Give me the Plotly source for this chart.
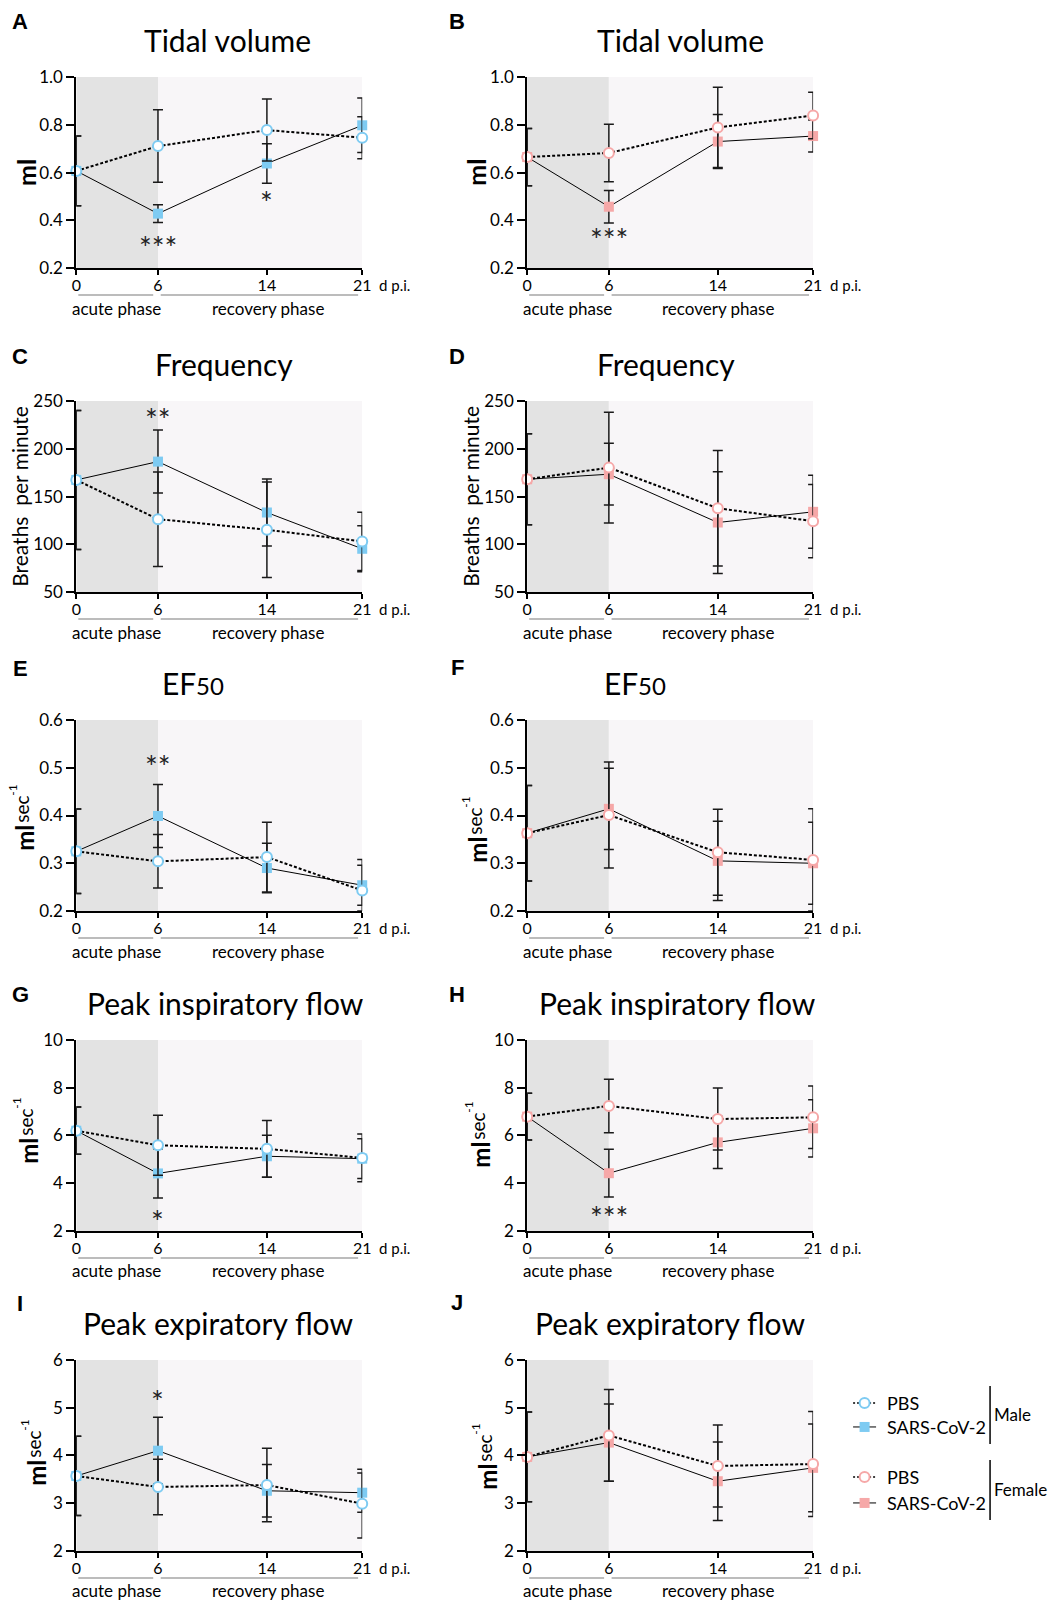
import plotly.graph_objects as go

W, H = 1057, 1603
# measured mapping of figure pixels to the photographed page: page = S * fig + (OX, OY)
S, OX, OY = 0.987, 4.7, 10.9
FONT = "Lato, Roboto, sans-serif"
BOLD = "Liberation Sans, Arial, sans-serif"

# ---------------- data ----------------
days = [0, 6, 14, 21]
day_labels = ["0", "6", "14", "21"]

# A: tidal volume, male
tv_m_pbs = [0.607, 0.711, 0.778, 0.746]
tv_m_pbs_sd = [0.146, 0.152, 0.130, 0.088]
tv_m_sars = [0.607, 0.428, 0.638, 0.798]
tv_m_sars_sd = [0.146, 0.037, 0.083, 0.114]
# B: tidal volume, female
tv_f_pbs = [0.665, 0.682, 0.789, 0.839]
tv_f_pbs_sd = [0.120, 0.120, 0.168, 0.097]
tv_f_sars = [0.665, 0.457, 0.730, 0.753]
tv_f_sars_sd = [0.120, 0.068, 0.113, 0.067]
# C: frequency, male
fr_m_pbs = [167.4, 126.3, 115.2, 103.0]
fr_m_pbs_sd = [72.8, 49.5, 50.0, 30.5]
fr_m_sars = [167.4, 186.6, 133.3, 95.3]
fr_m_sars_sd = [72.8, 33.0, 35.0, 24.0]
# D: frequency, female
fr_f_pbs = [168.1, 180.3, 137.8, 124.2]
fr_f_pbs_sd = [47.6, 58.0, 60.4, 38.3]
fr_f_sars = [168.1, 173.4, 122.8, 134.0]
fr_f_sars_sd = [47.6, 32.3, 53.3, 38.2]
# E: EF50, male
ef_m_pbs = [0.325, 0.304, 0.313, 0.243]
ef_m_pbs_sd = [0.0885, 0.056, 0.073, 0.065]
ef_m_pbs_sd_low = [0.0885, 0.056, 0.073, 0.043]
ef_m_sars = [0.325, 0.399, 0.290, 0.254]
ef_m_sars_sd = [0.0885, 0.066, 0.052, 0.042]
# F: EF50, female
ef_f_pbs = [0.363, 0.401, 0.323, 0.307]
ef_f_pbs_sd = [0.100, 0.111, 0.090, 0.107]
ef_f_sars = [0.363, 0.414, 0.305, 0.300]
ef_f_sars_sd = [0.100, 0.085, 0.083, 0.086]
# G: peak inspiratory flow, male
pif_m_pbs = [6.20, 5.59, 5.44, 5.06]
pif_m_pbs_sd = [0.99, 1.26, 1.19, 1.00]
pif_m_sars = [6.20, 4.41, 5.13, 5.03]
pif_m_sars_sd = [0.99, 1.03, 0.88, 0.83]
# H: peak inspiratory flow, female
pif_f_pbs = [6.79, 7.24, 6.69, 6.76]
pif_f_pbs_sd = [0.98, 1.12, 1.30, 1.31]
pif_f_sars = [6.79, 4.42, 5.71, 6.30]
pif_f_sars_sd = [0.98, 1.00, 1.09, 1.20]
# I: peak expiratory flow, male
pef_m_pbs = [3.57, 3.34, 3.38, 2.99]
pef_m_pbs_sd = [0.83, 0.58, 0.77, 0.72]
pef_m_sars = [3.57, 4.10, 3.26, 3.22]
pef_m_sars_sd = [0.83, 0.70, 0.55, 0.41]
# J: peak expiratory flow, female
pef_f_pbs = [3.97, 4.42, 3.78, 3.82]
pef_f_pbs_sd = [0.94, 0.96, 0.86, 1.10]
pef_f_sars = [3.97, 4.27, 3.46, 3.74]
pef_f_sars_sd = [0.94, 0.81, 0.82, 0.92]

tv_ticks = [0.2, 0.4, 0.6, 0.8, 1.0]
fr_ticks = [50, 100, 150, 200, 250]
ef_ticks = [0.2, 0.3, 0.4, 0.5, 0.6]
pif_ticks = [2, 4, 6, 8, 10]
pef_ticks = [2, 3, 4, 5, 6]

# significance marks: (text, day, value)
stars_A = [("***", 6, 0.30), ("*", 14, 0.49)]
stars_B = [("***", 6, 0.333)]
stars_C = [("**", 6, 234)]
stars_E = [("**", 6, 0.511)]
stars_G = [("*", 6, 2.56)]
stars_H = [("***", 6, 2.71)]
stars_I = [("*", 6, 5.21)]

BLUE = "#7ecbf2"
PINK = "#f6a8a8"

panels = [
    dict(L="A", t="Tidal volume", tx=227, yt="ml", ytx=25, ytdy=0, pbs=tv_m_pbs, pbs_sd=tv_m_pbs_sd, sars=tv_m_sars, sars_sd=tv_m_sars_sd,
         ticks=tv_ticks, fmt=".1f", c=BLUE, stars=stars_A),
    dict(L="B", t="Tidal volume", tx=680, yt="ml", ytx=475, ytdy=0, pbs=tv_f_pbs, pbs_sd=tv_f_pbs_sd, sars=tv_f_sars, sars_sd=tv_f_sars_sd,
         ticks=tv_ticks, fmt=".1f", c=PINK, stars=stars_B),
    dict(L="C", t="Frequency", tx=224, yt="bpm", ytx=19, ytdy=0, pbs=fr_m_pbs, pbs_sd=fr_m_pbs_sd, sars=fr_m_sars, sars_sd=fr_m_sars_sd,
         ticks=fr_ticks, fmt="d", c=BLUE, stars=stars_C),
    dict(L="D", t="Frequency", tx=666, yt="bpm", ytx=470, ytdy=0, pbs=fr_f_pbs, pbs_sd=fr_f_pbs_sd, sars=fr_f_sars, sars_sd=fr_f_sars_sd,
         ticks=fr_ticks, fmt="d", c=PINK, stars=[]),
    dict(L="E", t="EF50", tx=196, yt="mls", ytx=24, ytdy=22, pbs=ef_m_pbs, pbs_sd=ef_m_pbs_sd, pbs_sd_low=ef_m_pbs_sd_low, sars=ef_m_sars, sars_sd=ef_m_sars_sd,
         ticks=ef_ticks, fmt=".1f", c=BLUE, stars=stars_E),
    dict(L="F", t="EF50", tx=638, yt="mls", ytx=477, ytdy=34, pbs=ef_f_pbs, pbs_sd=ef_f_pbs_sd, sars=ef_f_sars, sars_sd=ef_f_sars_sd,
         ticks=ef_ticks, fmt=".1f", c=PINK, stars=[]),
    dict(L="G", t="Peak inspiratory flow", tx=225, yt="mls", ytx=28, ytdy=15, pbs=pif_m_pbs, pbs_sd=pif_m_pbs_sd, sars=pif_m_sars, sars_sd=pif_m_sars_sd,
         ticks=pif_ticks, fmt="d", c=BLUE, stars=stars_G),
    dict(L="H", t="Peak inspiratory flow", tx=677, yt="mls", ytx=480, ytdy=19, pbs=pif_f_pbs, pbs_sd=pif_f_pbs_sd, sars=pif_f_sars, sars_sd=pif_f_sars_sd,
         ticks=pif_ticks, fmt="d", c=PINK, stars=stars_H),
    dict(L="I", t="Peak expiratory flow", tx=218, yt="mls", ytx=36, ytdy=17, pbs=pef_m_pbs, pbs_sd=pef_m_pbs_sd, sars=pef_m_sars, sars_sd=pef_m_sars_sd,
         ticks=pef_ticks, fmt="d", c=BLUE, stars=stars_I),
    dict(L="J", t="Peak expiratory flow", tx=670, yt="mls", ytx=487, ytdy=21, pbs=pef_f_pbs, pbs_sd=pef_f_pbs_sd, sars=pef_f_sars, sars_sd=pef_f_sars_sd,
         ticks=pef_ticks, fmt="d", c=PINK, stars=[]),
]

# ---------------- layout geometry (page pixels) ----------------
COLS = [(76, 362), (527, 813)]
ROWS = [77, 401, 720, 1040, 1360]
PH = 191
LETTER_Y = [[21, 21], [356, 356], [668, 667], [995, 995], [1304, 1303]]
LETTER_X = [20, 457]


def fx(p):
    return ((p - OX) / S) / W


def fy(p):
    return 1 - ((p - OY) / S) / H


def txt(text, x, y, size, family=FONT, **kw):
    d = dict(text=text, xref="paper", yref="paper", x=fx(x), y=fy(y), showarrow=False,
             font=dict(family=family, size=size, color="black"), xanchor="center", yanchor="middle")
    d.update(kw)
    return d


fig = go.Figure()
annotations = []
shapes = []
layout = {}

for i, p in enumerate(panels):
    row, col = divmod(i, 2)
    n = i + 1
    sfx = "" if n == 1 else str(n)
    xr, yr = "x" + sfx, "y" + sfx
    x0, x1 = COLS[col]
    top = ROWS[row]
    bot = top + PH
    mid = top + PH / 2
    tk = p["ticks"]
    ttext = [format(v, p["fmt"]) for v in tk]
    layout["xaxis" + sfx] = dict(
        domain=[fx(x0), fx(x1)], anchor=yr, range=[0, 21], tickvals=days, ticktext=day_labels,
        showline=True, linecolor="black", linewidth=2, ticks="outside", ticklen=5, tickwidth=2,
        tickcolor="black", showgrid=False, zeroline=False, fixedrange=True, ticklabelstandoff=-3,
        tickfont=dict(family=FONT, size=16, color="black"),
    )
    layout["yaxis" + sfx] = dict(
        domain=[fy(bot), fy(top)], anchor=xr, range=[tk[0], tk[-1]], tickvals=tk, ticktext=ttext,
        showline=True, linecolor="black", linewidth=2, ticks="outside", ticklen=8, tickwidth=2,
        tickcolor="black", showgrid=False, zeroline=False, fixedrange=True,
        tickfont=dict(family=FONT, size=17, color="black"),
    )
    # phase shading
    shapes.append(dict(type="rect", xref=xr, yref=yr + " domain", x0=0, x1=6, y0=0, y1=1,
                       fillcolor="#e3e3e3", line=dict(width=0), layer="below"))
    shapes.append(dict(type="rect", xref=xr, yref=yr + " domain", x0=6, x1=21, y0=0, y1=1,
                       fillcolor="#f8f6f8", line=dict(width=0), layer="below"))
    # phase underlines
    shapes.append(dict(type="line", xref=xr, yref="paper", x0=0.15, x1=5.65, y0=fy(bot + 27), y1=fy(bot + 27),
                       line=dict(color="#a6a6a6", width=1.5)))
    shapes.append(dict(type="line", xref=xr, yref="paper", x0=6.2, x1=20.7, y0=fy(bot + 27), y1=fy(bot + 27),
                       line=dict(color="#a6a6a6", width=1.5)))
    annotations.append(dict(text="acute phase", xref=xr, yref="paper", x=2.95, y=fy(bot + 40),
                            showarrow=False, font=dict(family=FONT, size=17, color="black"),
                            xanchor="center", yanchor="middle"))
    annotations.append(dict(text="recovery phase", xref=xr, yref="paper", x=14.05, y=fy(bot + 40),
                            showarrow=False, font=dict(family=FONT, size=17, color="black"),
                            xanchor="center", yanchor="middle"))
    annotations.append(txt("d p.i.", x1 + 15, bot + 17, 15, xanchor="left"))
    # titles
    if p["t"] == "EF50":
        annotations.append(txt("EF", p["tx"] + 2, top - 37, 30, xanchor="right"))
        annotations.append(txt("50", p["tx"] - 2, top - 35, 24, xanchor="left"))
    else:
        annotations.append(txt(p["t"], p["tx"], top - 37, 30))
    annotations.append(txt("<b>" + p["L"] + "</b>", LETTER_X[col], LETTER_Y[row][col], 22, family=BOLD))
    # y-axis titles
    if p["yt"] == "ml":
        annotations.append(txt("<b>ml</b>", p["ytx"], mid, 25, textangle=-90))
    elif p["yt"] == "bpm":
        annotations.append(txt("Breaths  per minute", p["ytx"], mid, 21, textangle=-90))
    else:
        cy = mid + p["ytdy"]
        annotations.append(txt("<b>ml</b>", p["ytx"], cy, 24, textangle=-90))
        annotations.append(txt("sec", p["ytx"] - 3, cy - 28, 19, textangle=-90))
        annotations.append(txt("-1", p["ytx"] - 12, cy - 47, 12, textangle=-90))
    for s, d, v in p["stars"]:
        annotations.append(dict(text=s, xref=xr, yref=yr, x=d, y=v, showarrow=False,
                                font=dict(family=FONT, size=30, color="#222"),
                                xanchor="center", yanchor="middle", yshift=-3))

    fig.add_trace(go.Scatter(
        x=days, y=p["sars"], xaxis=xr, yaxis=yr, mode="lines+markers", cliponaxis=False,
        line=dict(color="black", width=1),
        marker=dict(symbol="square", size=10, color=p["c"], line=dict(width=0)),
        error_y=dict(type="data", array=p["sars_sd"], color="#1a1a1a", thickness=1.5, width=5),
        showlegend=False,
    ))
    fig.add_trace(go.Scatter(
        x=days, y=p["pbs"], xaxis=xr, yaxis=yr, mode="lines+markers", cliponaxis=False,
        line=dict(color="black", width=2, dash="3px,2px"),
        marker=dict(symbol="circle", size=10, color="white", line=dict(color=p["c"], width=2)),
        error_y=dict(type="data", array=p["pbs_sd"], arrayminus=p.get("pbs_sd_low", p["pbs_sd"]),
                     color="#1a1a1a", thickness=1.5, width=5),
        showlegend=False,
    ))

# ---------------- custom legend ----------------
LX0, LX1, LY0, LY1 = 830, 1040, 1380, 1530
layout["xaxis11"] = dict(domain=[fx(LX0), fx(LX1)], range=[LX0, LX1], anchor="y11", visible=False, fixedrange=True)
layout["yaxis11"] = dict(domain=[fy(LY1), fy(LY0)], range=[LY1, LY0], anchor="x11", visible=False, fixedrange=True)

legend_groups = ["Male", "Female"]
legend_colors = [BLUE, PINK]
legend_rows = [(1403, 1427), (1477, 1503)]
for g, c, (yp, ys) in zip(legend_groups, legend_colors, legend_rows):
    fig.add_trace(go.Scatter(x=[853, 876], y=[yp, yp], xaxis="x11", yaxis="y11", mode="lines",
                             line=dict(color="black", width=1.5, dash="2px,2px"), showlegend=False, hoverinfo="skip"))
    fig.add_trace(go.Scatter(x=[864.5], y=[yp], xaxis="x11", yaxis="y11", mode="markers", cliponaxis=False,
                             marker=dict(symbol="circle", size=10, color="white", line=dict(color=c, width=2)),
                             showlegend=False, hoverinfo="skip"))
    fig.add_trace(go.Scatter(x=[853, 876], y=[ys, ys], xaxis="x11", yaxis="y11", mode="lines",
                             line=dict(color="black", width=1), showlegend=False, hoverinfo="skip"))
    fig.add_trace(go.Scatter(x=[864.5], y=[ys], xaxis="x11", yaxis="y11", mode="markers", cliponaxis=False,
                             marker=dict(symbol="square", size=10, color=c), showlegend=False, hoverinfo="skip"))
    annotations.append(txt("PBS", 885, yp, 18, xanchor="left"))
    annotations.append(txt("SARS-CoV-2", 885, ys, 18, xanchor="left"))
    annotations.append(txt(g, 992, (yp + ys) / 2, 17, xanchor="left"))
    shapes.append(dict(type="line", xref="paper", yref="paper", x0=fx(990), x1=fx(990),
                       y0=fy(yp - 17), y1=fy(ys + 17), line=dict(color="black", width=1.5)))

fig.update_layout(
    width=W, height=H, margin=dict(l=0, r=0, t=0, b=0),
    paper_bgcolor="white", plot_bgcolor="white",
    annotations=annotations, shapes=shapes, showlegend=False,
    font=dict(family=FONT, color="black"),
    **layout,
)

fig.write_html("out.html")
